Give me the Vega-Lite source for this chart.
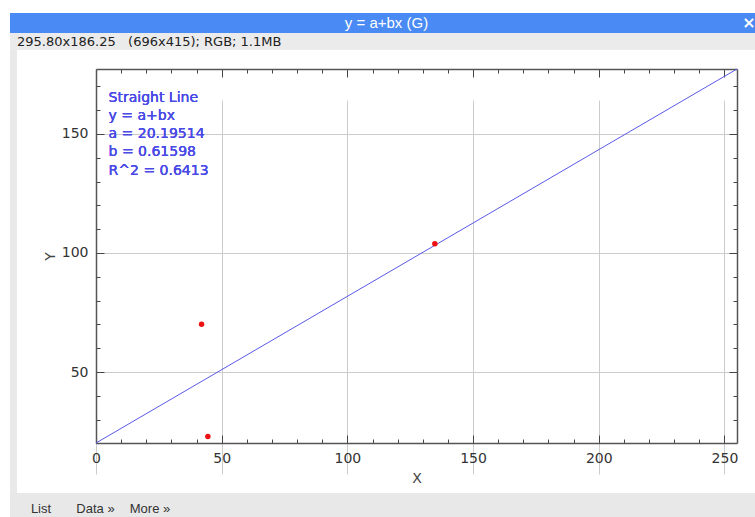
{
  "$schema": "https://vega.github.io/schema/vega-lite/v6.json",
  "background": "white",
  "padding": {"left": 10, "top": 13, "right": 0, "bottom": 0},
  "spacing": 0,
  "config": {"view": {"stroke": null}, "concat": {"spacing": 0}, "font": "DejaVu Sans"},
  "vconcat": [
    {
      "width": 745,
      "height": 20,
      "view": {"fill": "#4a8af4", "stroke": null},
      "data": {"values": [{"t": "y = a+bx (G)"}]},
      "layer": [
        {
          "mark": {"type": "text", "color": "white", "font": "Liberation Sans", "fontSize": 15, "dx": 4},
          "encoding": {"text": {"field": "t"}}
        },
        {
          "mark": {"type": "text", "color": "white", "font": "DejaVu Sans", "fontSize": 16, "fontWeight": "bold", "dx": -6},
          "encoding": {
            "text": {"value": "×"},
            "x": {"datum": 1, "type": "quantitative", "scale": {"domain": [0, 1], "nice": false, "zero": false}, "axis": null}
          }
        }
      ]
    },
    {
      "width": 745,
      "height": 17,
      "view": {"fill": "#ebebeb", "stroke": null},
      "data": {"values": [{"t": "295.80x186.25\u00a0\u00a0\u00a0(696x415); RGB; 1.1MB"}]},
      "mark": {"type": "text", "align": "left", "color": "#222222", "font": "DejaVu Sans", "fontSize": 13, "dx": 7},
      "encoding": {
        "text": {"field": "t"},
        "x": {"datum": 0, "type": "quantitative", "scale": {"domain": [0, 1], "nice": false, "zero": false}, "axis": null}
      }
    },
    {
      "spacing": 0,
      "hconcat": [
        {
          "width": 7,
          "height": 443,
          "view": {"fill": "#e9e9e9", "stroke": null},
          "data": {"values": [{}]},
          "mark": "text",
          "encoding": {"text": {"value": ""}}
        },
        {
          "width": 738,
          "height": 443,
          "view": {"fill": "white", "stroke": null},
          "data": {"values": [
            {"x": 42, "y": 70.08},
            {"x": 44.5, "y": 22.92},
            {"x": 134.8, "y": 103.89}
          ]},
          "resolve": {"axis": {"x": "independent", "y": "independent"}},
          "layer": [
            {
              "transform": [{"regression": "y", "on": "x", "extent": [0, 255]}],
              "mark": {"type": "line", "color": "#5a5ae6", "strokeWidth": 1, "clip": true},
              "encoding": {
                "x": {
                  "field": "x", "type": "quantitative",
                  "scale": {"domain": [0, 255], "range": [79, 720], "nice": false, "zero": false},
                  "axis": {
                    "orient": "bottom", "offset": -50, "title": null,
                    "values": [0,10,20,30,40,50,60,70,80,90,100,110,120,130,140,150,160,170,180,190,200,210,220,230,240,250],
                    "labels": false, "domain": false, "grid": false, "ticks": true,
                    "tickColor": "#444444", "tickWidth": 1,
                    "tickSize": {"condition": {"test": "datum.value % 50 === 0", "value": -8}, "value": -4}
                  }
                },
                "y": {
                  "field": "y", "type": "quantitative",
                  "scale": {"domain": [20.195, 177.27], "range": [393, 19], "nice": false, "zero": false},
                  "axis": {
                    "orient": "left", "offset": -79, "title": null,
                    "values": [30,40,50,60,70,80,90,100,110,120,130,140,150,160,170],
                    "labels": false, "domain": false, "grid": false, "ticks": true,
                    "tickColor": "#444444", "tickWidth": 1,
                    "tickSize": {"condition": {"test": "datum.value % 50 === 0", "value": -8}, "value": -4}
                  }
                }
              }
            },
            {
              "mark": {"type": "circle", "color": "#ee1111", "size": 30, "opacity": 1},
              "encoding": {
                "x": {
                  "field": "x", "type": "quantitative",
                  "axis": {
                    "orient": "bottom", "offset": -50, "values": [0, 50, 100, 150, 200, 250],
                    "ticks": false, "domain": true, "domainColor": "#555555", "domainWidth": 1.5,
                    "grid": true, "gridColor": "#cccccc", "gridWidth": 1,
                    "labelPadding": 8, "labelFontSize": 14, "labelColor": "#333333", "labelFlush": false,
                    "title": "X", "titleFontSize": 14, "titleFontWeight": "normal", "titleColor": "#444444",
                    "titleY": 35, "titleBaseline": "middle"
                  }
                },
                "y": {
                  "field": "y", "type": "quantitative",
                  "axis": {
                    "orient": "left", "offset": -79, "values": [50, 100, 150],
                    "ticks": false, "domain": true, "domainColor": "#555555", "domainWidth": 1.5,
                    "grid": true, "gridColor": "#cccccc", "gridWidth": 1,
                    "labelPadding": 8, "labelFontSize": 14, "labelColor": "#333333", "labelFlush": false,
                    "title": "Y", "titleFontSize": 14, "titleFontWeight": "normal", "titleColor": "#444444",
                    "titleX": -46, "titleBaseline": "middle"
                  }
                }
              }
            },
            {
              "mark": {"type": "text", "align": "left", "baseline": "top", "color": "#4a4ae6", "fontSize": 14, "fontWeight": "normal", "lineHeight": 18.3, "font": "DejaVu Sans"},
              "encoding": {
                "text": {"value": ["Straight Line", "y = a+bx", "a = 20.19514", "b = 0.61598", "R^2 = 0.6413"]},
                "x": {
                  "datum": 5, "type": "quantitative",
                  "axis": {
                    "orient": "top", "offset": -19, "title": null,
                    "values": [0,10,20,30,40,50,60,70,80,90,100,110,120,130,140,150,160,170,180,190,200,210,220,230,240,250],
                    "labels": false, "domain": true, "domainColor": "#555555", "domainWidth": 1.5, "grid": false,
                    "tickColor": "#444444", "tickWidth": 1,
                    "tickSize": {"condition": {"test": "datum.value % 50 === 0", "value": -8}, "value": -4}
                  }
                },
                "y": {
                  "datum": 168.2, "type": "quantitative",
                  "axis": {
                    "orient": "right", "offset": -18, "title": null,
                    "values": [30,40,50,60,70,80,90,100,110,120,130,140,150,160,170],
                    "labels": false, "domain": true, "domainColor": "#555555", "domainWidth": 1.5, "grid": false,
                    "tickColor": "#444444", "tickWidth": 1,
                    "tickSize": {"condition": {"test": "datum.value % 50 === 0", "value": -8}, "value": -4}
                  }
                }
              }
            }
          ]
        }
      ]
    },
    {
      "width": 745,
      "height": 24,
      "view": {"fill": "#e8e8e8", "stroke": null},
      "data": {"values": [{"b": "List"}, {"b": "Data »"}, {"b": "More »"}]},
      "mark": {"type": "text", "color": "#333333", "font": "Liberation Sans", "fontSize": 13, "dy": 4},
      "encoding": {
        "text": {"field": "b"},
        "x": {"field": "b", "type": "nominal", "sort": null, "scale": {"type": "point", "range": [31, 140], "padding": 0}, "axis": null}
      }
    }
  ]
}
